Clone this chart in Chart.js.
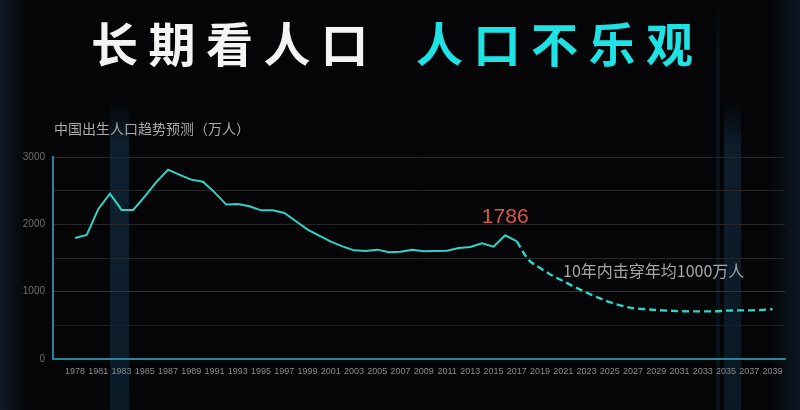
<!DOCTYPE html>
<html>
<head>
<meta charset="utf-8">
<script src="https://cdn.jsdelivr.net/npm/chart.js@4.4.1/dist/chart.umd.min.js"></script>
<style>
  html, body { margin: 0; padding: 0; background: #050507; }
  #wrap { position: relative; width: 800px; height: 410px; overflow: hidden; background: #050507; }
  canvas { position: absolute; left: 0; top: 0; }
  .title { position: absolute; top: 14px; font-family: "Noto Sans CJK SC", sans-serif; font-weight: 700;
           font-size: 47px; line-height: 56px; letter-spacing: 10.5px; white-space: nowrap; }
  #t1 { left: 91px; color: #f4f4f4; }
  #t2 { left: 416px; color: #1fe2e4; }
  #sub { position: absolute; left: 54px; top: 119px; font-family: "Noto Sans CJK SC", sans-serif;
         font-size: 14px; line-height: 18px; color: #a9a9a9; white-space: nowrap; }
</style>
</head>
<body>
<div id="wrap">
  <canvas id="c" width="800" height="410"></canvas>
  <div class="title" id="t1">长期看人口</div>
  <div class="title" id="t2">人口不乐观</div>
  <div id="sub">中国出生人口趋势预测（万人）</div>
</div>
<script>
// ---- data (万人) ----
const actualYears = [1979,1980,1981,1982,1983,1984,1985,1986,1987,1988,1989,1990,1991,1992,1993,1994,1995,1996,1997,1998,1999,2000,2001,2002,2003,2004,2005,2006,2007,2008,2009,2010,2011,2012,2013,2014,2015,2016,2017];
const actualBirths = [1798,1843,2229,2456,2214,2214,2416,2630,2813,2734,2664,2634,2475,2293,2301,2268,2208,2208,2169,2045,1921,1832,1743,1673,1614,1605,1624,1584,1594,1624,1599,1604,1609,1649,1664,1718,1669,1837,1747];
const forecastYears = [2017,2018,2019,2020,2021,2022,2023,2024,2025,2026,2027,2028,2029,2030,2031,2032,2033,2034,2035,2036,2037,2038,2039];
const forecastBirths = [1747,1475,1352,1245,1156,1067,985,911,844,792,755,740,728,718,710,707,707,707,718,722,722,728,740];
const tickYears = [1979,1981,1983,1985,1987,1989,1991,1993,1995,1997,1999,2001,2003,2005,2007,2009,2011,2013,2015,2017,2019,2021,2023,2025,2027,2029,2031,2033,2035,2037,2039];
const tickLabels = ['1978','1981','1983','1985','1987','1989','1991','1993','1995','1997','1999','2001','2003','2005','2007','2009','2011','2013','2015','2017','2019','2021','2023','2025','2027','2029','2031','2033','2035','2037','2039'];
const yTicks = [0,500,1000,1500,2000,2500,3000];
const peakYear = 2016;
const peakLabel = '1786';
const forecastNote = '10年内击穿年均1000万人';

const LINE = '#2fd4c6';

const bgPlugin = {
  id: 'bg',
  beforeDraw(chart) {
    const ctx = chart.ctx;
    ctx.save();
    ctx.fillStyle = '#050507';
    ctx.fillRect(0, 0, 800, 410);
    let g = ctx.createLinearGradient(0, 0, 26, 0);
    g.addColorStop(0, 'rgba(20,45,70,0.55)');
    g.addColorStop(1, 'rgba(20,45,70,0)');
    ctx.fillStyle = g; ctx.fillRect(0, 0, 26, 410);
    g = ctx.createLinearGradient(800, 0, 770, 0);
    g.addColorStop(0, 'rgba(20,45,70,0.45)');
    g.addColorStop(1, 'rgba(20,45,70,0)');
    ctx.fillStyle = g; ctx.fillRect(770, 0, 30, 410);
    const band = (x0, w, y0, a) => {
      const gg = ctx.createLinearGradient(0, y0, 0, 410);
      gg.addColorStop(0, 'rgba(30,80,120,0)');
      gg.addColorStop(0.15, 'rgba(30,80,120,' + a + ')');
      gg.addColorStop(1, 'rgba(30,80,120,' + (a * 0.8) + ')');
      ctx.fillStyle = gg; ctx.fillRect(x0, y0, w, 410 - y0);
    };
    band(110, 19, 100, 0.36);
    band(724, 17, 100, 0.32);
    band(716, 4, 0, 0.18);
    ctx.restore();
  },
  afterDatasetsDraw(chart) {
    const ctx = chart.ctx;
    const xs = chart.scales.x, ys = chart.scales.y;
    const i = actualYears.indexOf(peakYear);
    const px = xs.getPixelForValue(peakYear);
    const py = ys.getPixelForValue(actualBirths[i]);
    ctx.save();
    ctx.font = '21px "Liberation Sans", Arial, sans-serif';
    ctx.fillStyle = '#d95a40';
    ctx.textAlign = 'center';
    ctx.textBaseline = 'middle';
    ctx.fillText(peakLabel, px, py - 18);
    ctx.font = '16px "Noto Sans CJK SC", sans-serif';
    ctx.fillStyle = '#a6a6a6';
    ctx.textAlign = 'left';
    ctx.fillText(forecastNote, 563, 271);
    ctx.restore();
  }
};

new Chart(document.getElementById('c'), {
  type: 'line',
  data: {
    datasets: [
      {
        data: actualYears.map((y, i) => ({ x: y, y: actualBirths[i] })),
        borderColor: LINE, borderWidth: 2, pointRadius: 0, tension: 0, fill: false
      },
      {
        data: forecastYears.map((y, i) => ({ x: y, y: forecastBirths[i] })),
        borderColor: LINE, borderWidth: 2.4, borderDash: [7, 4], pointRadius: 0,
        cubicInterpolationMode: 'monotone', fill: false
      }
    ]
  },
  options: {
    responsive: false,
    animation: false,
    layout: { padding: { left: 0, right: 15, top: 157, bottom: 31 } },
    plugins: { legend: { display: false }, tooltip: { enabled: false }, title: { display: false } },
    scales: {
      x: {
        type: 'linear',
        min: 1977.1, max: 2040.07,
        afterBuildTicks(scale) { scale.ticks = tickYears.map(v => ({ value: v })); },
        afterFit(scale) { scale.height = 20; },
        grid: { display: false, drawTicks: false },
        border: { color: '#2a8497', width: 2 },
        ticks: {
          autoSkip: false, maxRotation: 0, minRotation: 0, padding: 7,
          color: '#8a8a8a', font: { family: '"Liberation Sans", Arial, sans-serif', size: 9 },
          callback(v) { const k = tickYears.indexOf(v); return k >= 0 ? tickLabels[k] : ''; }
        }
      },
      y: {
        min: 0, max: 3000,
        afterBuildTicks(scale) { scale.ticks = yTicks.map(v => ({ value: v })); },
        afterFit(scale) { scale.width = 53; },
        border: { color: '#2a8497', width: 2 },
        grid: {
          drawTicks: false,
          lineWidth: 1,
          color(ctx) {
            const v = ctx.tick.value;
            if (v === 1000) return '#4a2a27';
            if (v === 500) return '#2c1b1b';
            if (v === 0) return 'rgba(0,0,0,0)';
            return '#262629';
          }
        },
        ticks: {
          padding: 8,
          color: '#6f6f6f', font: { family: '"Liberation Sans", Arial, sans-serif', size: 10 },
          callback(v) { return v % 1000 === 0 ? String(v) : ''; }
        }
      }
    }
  },
  plugins: [bgPlugin]
});
</script>
</body>
</html>
